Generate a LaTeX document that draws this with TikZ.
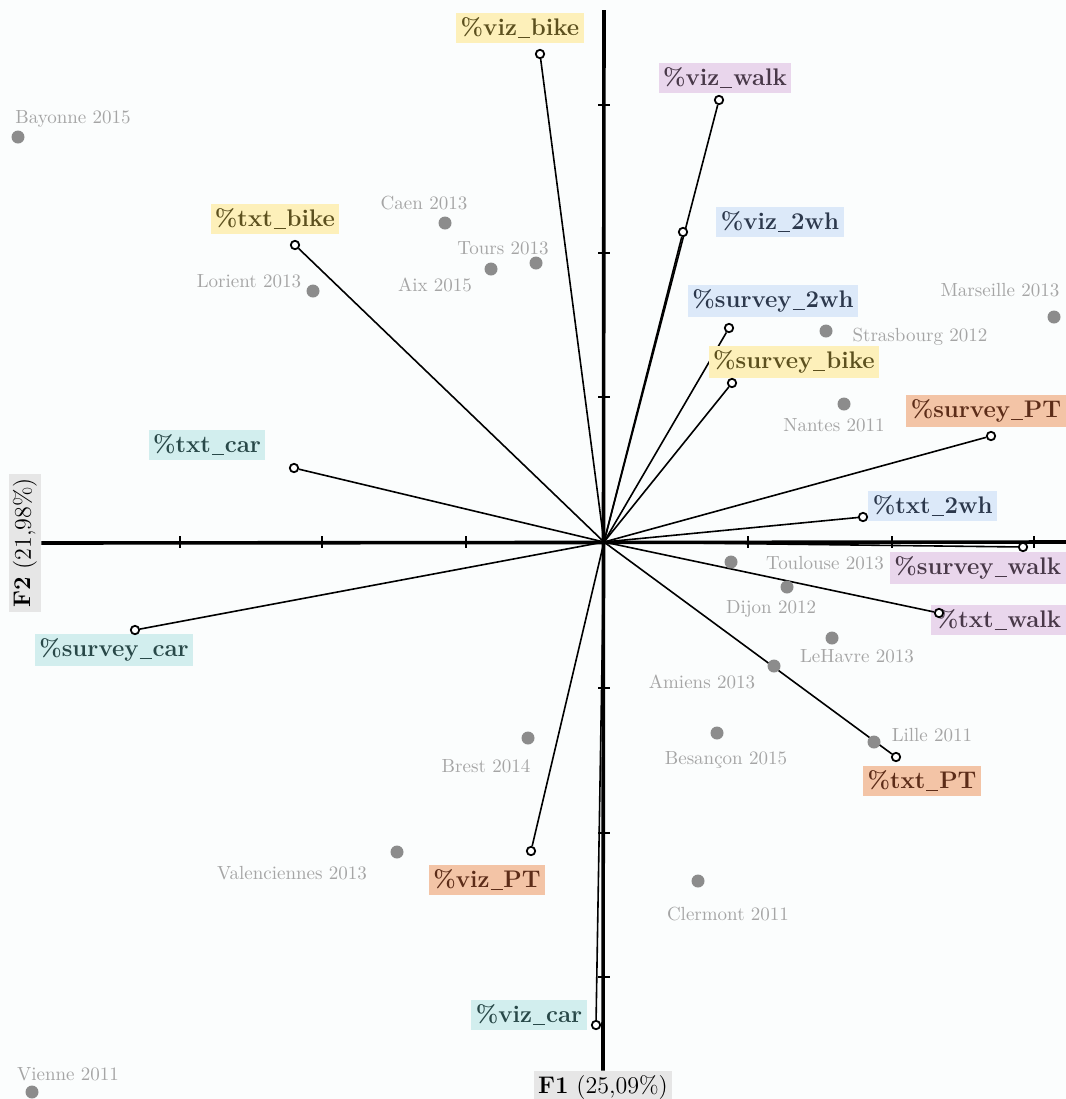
\documentclass[tikz,border=0pt]{standalone}
\usepackage{tikz}
\definecolor{page}{RGB}{251,253,253}
\definecolor{dotgray}{RGB}{140,140,140}
\definecolor{namegray}{RGB}{165,165,165}
\definecolor{bgbike}{RGB}{253,240,186}
\definecolor{txbike}{RGB}{92,80,30}
\definecolor{bgwalk}{RGB}{233,214,236}
\definecolor{txwalk}{RGB}{72,56,72}
\definecolor{bgwheel}{RGB}{220,233,249}
\definecolor{txwheel}{RGB}{44,56,76}
\definecolor{bgpt}{RGB}{243,196,166}
\definecolor{txpt}{RGB}{92,44,24}
\definecolor{bgcar}{RGB}{210,238,238}
\definecolor{txcar}{RGB}{40,72,72}
\definecolor{bgaxis}{RGB}{230,230,230}
\newcommand{\us}{\kern0.04em\rule[-0.12em]{0.5em}{0.07em}\kern0.04em}

\begin{document}
\begin{tikzpicture}[x=0.5pt, y=-0.5pt,
    axis/.style={line width=1.8pt},
    vec/.style={line width=0.8pt},
    tip/.style={circle, draw, line width=0.9pt, fill=white, inner sep=0pt, minimum size=4.2pt},
    city/.style={circle, fill=dotgray, inner sep=0pt, minimum size=6.5pt},
    cityname/.style={text=namegray, inner sep=0pt, font=\fontsize{9.5}{11}\selectfont},
    var/.style={inner sep=2.2pt, font=\large\bfseries},
    axlab/.style={fill=bgaxis, inner sep=2pt, font=\large}]
    % page
    \useasboundingbox (0,0) rectangle (1066,1099);
    \fill[page] (0,0) rectangle (1066,1099);

    % axes
    \coordinate (o) at (604,542);
    \node[axlab, rotate=90] (f2) at (25,543) {\textbf{F2} (21,98\%)};
    \node[axlab] (f1) at (603,1087) {\textbf{F1} (25,09\%)};
    \coordinate (xend) at (1070,542);
    \coordinate (ytop) at (604,10);
    \draw[axis] (f2.south) -- (xend);
    \draw[axis] (ytop) -- (f1.north);
    \foreach \t in {180,322,466,748,892,1034}
        \draw[line width=0.8pt] (\t,536) -- (\t,548);
    \foreach \t in {105,253,397,688,833,977}
        \draw[line width=0.8pt] (598,\t) -- (610,\t);

    % variables
    \foreach \v/\px/\py/\lx/\ly/\a/\m/\txt in {
        vb/540/54/520/28/center/bike/viz\us{}bike,
        vw/719/100/725/78/center/walk/viz\us{}walk,
        vt/683/232/780/222/center/wheel/viz\us{}2wh,
        st/729/328/773/301/center/wheel/survey\us{}2wh,
        sb/732/383/794/362/center/bike/survey\us{}bike,
        sp/991/436/1066/411/east/pt/survey\us{}PT,
        tt/863/517/868/506/west/wheel/txt\us{}2wh,
        sw/1023/547/1066/568/east/walk/survey\us{}walk,
        tw/939/613/1066/620/east/walk/txt\us{}walk,
        tp/896/757/922/781/center/pt/txt\us{}PT,
        vc/596/1025/529/1015/center/car/viz\us{}car,
        vp/531/851/487/880/center/pt/viz\us{}PT,
        sc/135/630/114/650/center/car/survey\us{}car,
        tc/294/468/207/445/center/car/txt\us{}car,
        tb/295/245/275/219/center/bike/txt\us{}bike} {
        \node[var, fill=bg\m, text=tx\m, anchor=\a] (l\v) at (\lx,\ly) {\%\txt};
        \node[tip] (\v) at (\px,\py) {};
        \draw[vec] (o) -- (\v);
    }

    % cities
    \foreach \cx/\cy/\tx/\ty/\txt [count=\i] in {
        18/137/73/119/Bayonne 2015,
        313/291/249/281/Lorient 2013,
        445/223/424/203/Caen 2013,
        536/263/503/248/Tours 2013,
        491/269/435/285/Aix 2015,
        1054/317/1000/290/Marseille 2013,
        826/331/920/337/Strasbourg 2012,
        844/404/834/425/Nantes 2011,
        731/562/825/563/Toulouse 2013,
        787/587/771/609/Dijon 2012,
        832/638/857/656/LeHavre 2013,
        774/666/702/682/Amiens 2013,
        874/742/932/735/Lille 2011,
        717/733/726/760/Besançon 2015,
        698/881/728/914/Clermont 2011,
        528/738/486/766/Brest 2014,
        397/852/292/873/Valenciennes 2013,
        32/1092/68/1074/Vienne 2011} {
        \node[city] (c\i) at (\cx,\cy) {};
        \node[cityname] (n\i) at (\tx,\ty) {\txt};
    }
\end{tikzpicture}
\end{document}
